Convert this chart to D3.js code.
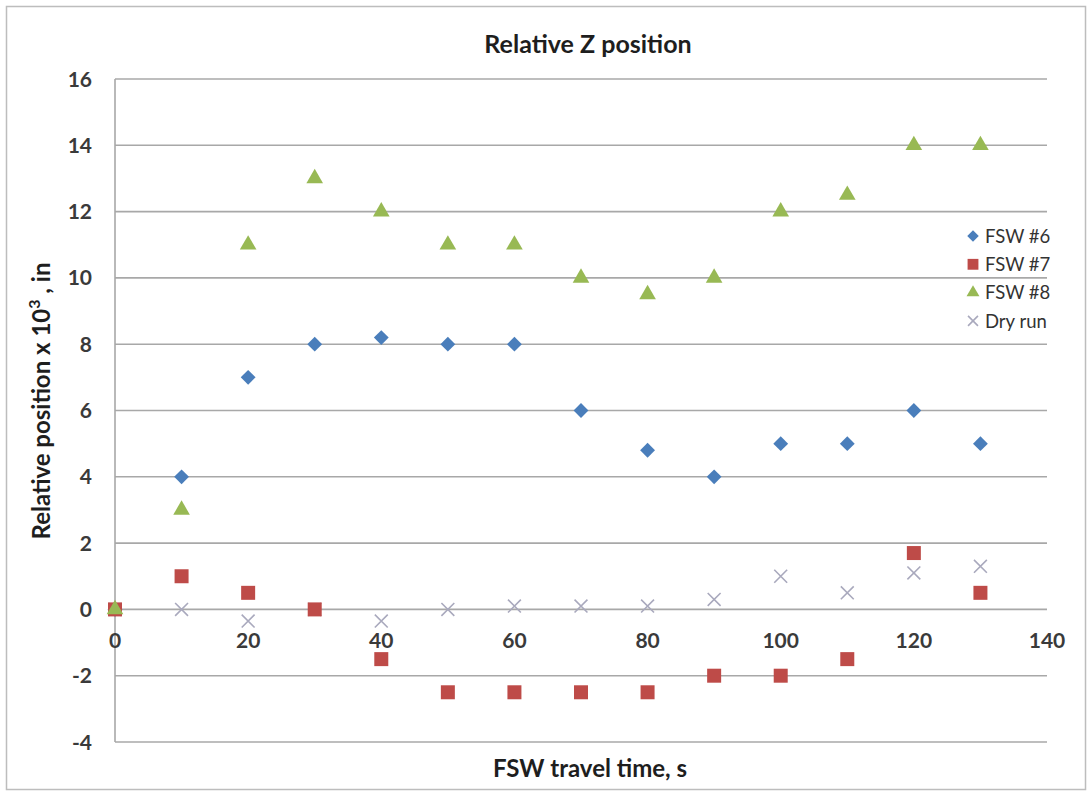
<!DOCTYPE html>
<html>
<head>
<meta charset="utf-8">
<script src="https://cdn.jsdelivr.net/npm/d3@7"></script>
<style>
  body { margin: 0; background: #fff; }
  text { font-family: Lato, "Open Sans", sans-serif; }
</style>
</head>
<body>
<svg width="1092" height="796"></svg>
<script>
var times = [0, 10, 20, 30, 40, 50, 60, 70, 80, 90, 100, 110, 120, 130];
var fsw6 = [0, 4, 7, 8, 8.2, 8, 8, 6, 4.8, 4, 5, 5, 6, 5];
var fsw7 = [0, 1, 0.5, 0, -1.5, -2.5, -2.5, -2.5, -2.5, -2, -2, -1.5, 1.7, 0.5];
var fsw8 = [0, 3, 11, 13, 12, 11, 11, 10, 9.5, 10, 12, 12.5, 14, 14];
var dryRun = [0, 0, -0.35, 0, -0.35, 0, 0.1, 0.1, 0.1, 0.3, 1, 0.5, 1.1, 1.3];
var xTicks = [0, 20, 40, 60, 80, 100, 120, 140];
var yTicks = [-4, -2, 0, 2, 4, 6, 8, 10, 12, 14, 16];

var svg = d3.select("svg");

svg.append("rect")
    .attr("x", 6.5).attr("y", 6.5)
    .attr("width", 1079).attr("height", 783)
    .attr("fill", "#fff").attr("stroke", "#bdbdbd").attr("stroke-width", 1.5);

var x = d3.scaleLinear().domain([0, 140]).range([115, 1047]);
var y = d3.scaleLinear().domain([-4, 16]).range([742, 79]);

// horizontal gridlines
svg.append("g").selectAll("line")
    .data(yTicks)
    .enter().append("line")
      .attr("x1", x(0)).attr("x2", x(140))
      .attr("y1", function(d) { return y(d); })
      .attr("y2", function(d) { return y(d); })
      .attr("stroke", "#a8a8a8").attr("stroke-width", 1.6);

// vertical axis line
svg.append("line")
    .attr("x1", x(0)).attr("x2", x(0))
    .attr("y1", y(16)).attr("y2", y(-4))
    .attr("stroke", "#a8a8a8").attr("stroke-width", 1.6);

// y tick labels
svg.append("g").selectAll("text")
    .data(yTicks)
    .enter().append("text")
      .attr("x", 92)
      .attr("y", function(d) { return y(d); })
      .attr("dy", "0.36em")
      .attr("text-anchor", "end")
      .attr("font-size", 21).attr("font-weight", "bold").attr("fill", "#3a3a3a")
      .text(function(d) { return d; });

// x tick labels, under the zero line
svg.append("g").selectAll("text")
    .data(xTicks)
    .enter().append("text")
      .attr("x", function(d) { return x(d); })
      .attr("y", y(0) + 39)
      .attr("text-anchor", "middle")
      .attr("font-size", 21).attr("font-weight", "bold").attr("fill", "#3a3a3a")
      .text(function(d) { return d; });

// titles
svg.append("text")
    .attr("x", 588).attr("y", 53)
    .attr("text-anchor", "middle")
    .attr("font-size", 25).attr("font-weight", "bold").attr("fill", "#1e1e1e")
    .text("Relative Z position");

svg.append("text")
    .attr("x", 590).attr("y", 777)
    .attr("text-anchor", "middle")
    .attr("font-size", 24).attr("font-weight", "bold").attr("fill", "#1e1e1e")
    .text("FSW travel time, s");

var yl = svg.append("text")
    .attr("transform", "translate(50,401) rotate(-90)")
    .attr("text-anchor", "middle")
    .attr("font-size", 24).attr("font-weight", "bold").attr("fill", "#1e1e1e");
yl.append("tspan").text("Relative position x 10");
yl.append("tspan").attr("font-size", 16).attr("dy", -10).text("3");
yl.append("tspan").attr("dy", 10).text(" , in");

// diamond that is as wide as it is tall, like the spreadsheet marker
var wideDiamond = {
  draw: function(ctx, size) {
    var r = Math.sqrt(size / 2);
    ctx.moveTo(0, -r); ctx.lineTo(r, 0); ctx.lineTo(0, r); ctx.lineTo(-r, 0); ctx.closePath();
  }
};

var series = [
  { name: "FSW #6", values: fsw6, type: wideDiamond, size: 110, color: "#4a7ebb" },
  { name: "FSW #7", values: fsw7, type: d3.symbolSquare, size: 196, color: "#be4b48" },
  { name: "FSW #8", values: fsw8, type: d3.symbolTriangle, size: 120, color: "#98b954" },
  { name: "Dry run", values: dryRun, type: d3.symbolX, size: 110, color: "#a9a9bd" }
];

function styleMark(sel, s) {
  if (s.type === d3.symbolX) {
    sel.attr("fill", "none").attr("stroke", s.color).attr("stroke-width", 1.6);
  } else {
    sel.attr("fill", s.color);
  }
}

// draw order like the reference: dry run under the others
[3, 0, 1, 2].forEach(function(i) {
  var s = series[i];
  var pts = svg.append("g").selectAll("path")
      .data(times.map(function(t, j) { return [t, s.values[j]]; }))
      .enter().append("path")
        .attr("d", d3.symbol().type(s.type).size(s.size))
        .attr("transform", function(d) { return "translate(" + x(d[0]) + "," + y(d[1]) + ")"; });
  styleMark(pts, s);
});

// legend
var legend = svg.append("g").selectAll("g")
    .data(series)
    .enter().append("g")
      .attr("transform", function(d, i) { return "translate(973," + (236 + i * 28.3) + ")"; });

legend.append("path")
    .attr("d", function(d) { return d3.symbol().type(d.type).size(d.size * 0.6)(); })
    .each(function(d) { styleMark(d3.select(this), d); });

legend.append("text")
    .attr("x", 12).attr("dy", "0.36em")
    .attr("font-size", 18.5).attr("fill", "#333")
    .text(function(d) { return d.name; });
</script>
</body>
</html>
